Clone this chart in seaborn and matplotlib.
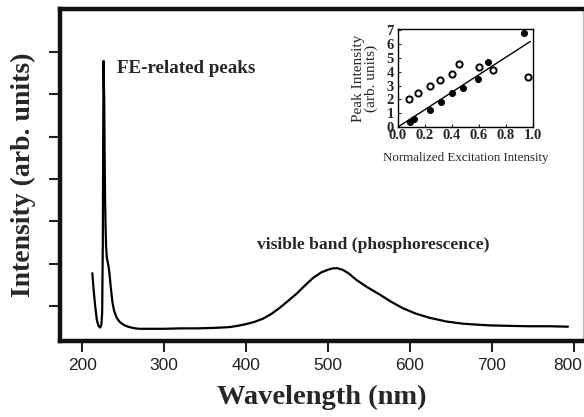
"""
Emission spectrum with FE-related peaks and visible phosphorescence band,
plus an inset of peak intensity vs. normalized excitation intensity.
"""
import matplotlib
matplotlib.use("Agg")
import matplotlib.pyplot as plt
import seaborn as sns
import pandas as pd

# ---- main spectrum (wavelength in nm, intensity in arb. units) ----
wavelength = [212.5, 214, 216, 218, 220, 222, 223.5, 224.5, 225.3, 225.8,
              226.2, 226.6, 227.0, 227.5, 228.0, 228.6, 229.3, 230.2, 231.2, 232.2,
              233.5, 235, 237, 239, 242, 245, 248, 252, 256, 260,
              265, 270, 280, 300, 320, 340, 360, 380, 390, 400,
              410, 421, 431, 441, 451, 462, 472, 482, 492, 500,
              505, 511, 518, 525, 535, 548, 563, 577, 591, 607,
              624, 645, 665, 680, 698, 720, 745, 770, 793]
intensity = [1.78, 1.40, 1.00, 0.68, 0.54, 0.50, 0.56, 0.85, 2.50, 5.20,
             6.78, 6.20, 5.90, 4.60, 3.60, 2.90, 2.40, 2.15, 2.05, 1.95,
             1.75, 1.45, 1.10, 0.90, 0.74, 0.65, 0.60, 0.55, 0.52, 0.50,
             0.48, 0.47, 0.47, 0.47, 0.48, 0.48, 0.49, 0.51, 0.54, 0.58,
             0.63, 0.71, 0.82, 0.96, 1.12, 1.30, 1.49, 1.67, 1.80, 1.86,
             1.89, 1.90, 1.86, 1.78, 1.62, 1.45, 1.28, 1.11, 0.96, 0.83,
             0.73, 0.64, 0.59, 0.57, 0.55, 0.54, 0.53, 0.53, 0.52]

xticks_main = [200, 300, 400, 500, 600, 700, 800]
yticks_main = [1, 2, 3, 4, 5, 6, 7]

# ---- inset data ----
filled_x = [0.09, 0.12, 0.24, 0.32, 0.40, 0.48, 0.59, 0.67, 0.93]
filled_y = [0.35, 0.55, 1.20, 1.80, 2.50, 2.80, 3.50, 4.70, 6.80]
open_x = [0.08, 0.15, 0.24, 0.31, 0.40, 0.45, 0.60, 0.70, 0.96]
open_y = [2.05, 2.45, 3.00, 3.40, 3.85, 4.60, 4.35, 4.15, 3.65]
fit_x = [0.0, 0.98]
fit_y = [0.0, 6.2]
inset_xticks = [0.0, 0.2, 0.4, 0.6, 0.8, 1.0]
inset_yticks = [0, 1, 2, 3, 4, 5, 6, 7]

sns.set_style("ticks")
serif = "Liberation Serif"
sans = "Liberation Sans"

spec = pd.DataFrame({"wl": wavelength, "inten": intensity})

fig = plt.figure(figsize=(5.84, 4.17), dpi=100)
ax = fig.add_axes([0.1027, 0.182, 0.895, 0.796])

sns.lineplot(data=spec, x="wl", y="inten", ax=ax, color="black", lw=1.6, sort=False)
ax.set_xlim(173, 811)
ax.set_ylim(0.18, 8.0)
ax.set_xticks(xticks_main)
# last label sits right at the figure edge: draw it separately, nudged in a little
tick_text = [str(t) for t in xticks_main]
ax.set_xticklabels(tick_text[:-1] + [""], fontfamily=sans, fontsize=12.5, color="#222222")
ax.annotate(tick_text[-1], xy=(xticks_main[-1], 0), xycoords=("data", "axes fraction"),
            xytext=(-4, -12), textcoords="offset points", ha="center", va="top",
            fontfamily=sans, fontsize=12.5, color="#222222")
ax.set_yticks(yticks_main)
ax.set_yticklabels([])
ax.tick_params(axis="both", direction="out", length=8, width=1.5, color="#222222", pad=4)
for side in ["left", "bottom", "top"]:
    ax.spines[side].set_linewidth(3.2)
    ax.spines[side].set_color("#111111")
ax.spines["right"].set_linewidth(1.0)
ax.spines["right"].set_color("#bbbbbb")

ax.set_xlabel("Wavelength (nm)", fontfamily=serif, fontweight="bold", fontsize=20.5, labelpad=9)
ax.set_ylabel("Intensity (arb. units)", fontfamily=serif, fontweight="bold", fontsize=20, labelpad=5)

ax.text(242.5, 6.6, "FE-related peaks", fontfamily=serif, fontweight="bold", fontsize=13.7,
        ha="left", va="center")
ax.text(556, 2.45, "visible band (phosphorescence)", fontfamily=serif, fontweight="bold",
        fontsize=12.6, ha="center", va="center")

# ---- inset ----
ins = fig.add_axes([0.6815, 0.6954, 0.2312, 0.235])
sns.lineplot(x=fit_x, y=fit_y, ax=ins, color="black", lw=1.0)
sns.scatterplot(x=filled_x, y=filled_y, ax=ins, color="black", s=18, edgecolor="black", linewidth=0.8)
sns.scatterplot(x=open_x, y=open_y, ax=ins, facecolor="white", edgecolor="black", s=20, linewidth=1.4)
ins.set_xlim(0.0, 1.0)
ins.set_ylim(0.0, 7.1)
ins.set_xticks(inset_xticks)
ins.set_xticklabels([f"{t:.1f}" for t in inset_xticks], fontfamily=serif, fontweight="bold", fontsize=10.5)
ins.set_yticks(inset_yticks)
ins.set_yticklabels([str(t) for t in inset_yticks], fontfamily=serif, fontweight="bold", fontsize=10.5)
ins.tick_params(axis="x", direction="in", length=2, width=0.8, pad=1.5)
ins.tick_params(axis="y", direction="in", length=2, width=0.8, pad=3)
for side in ins.spines.values():
    side.set_linewidth(1.0)
    side.set_color("black")
ins.set_xlabel("Normalized Excitation Intensity", fontfamily=serif, fontsize=9.4, labelpad=7)
ins.set_ylabel("Peak Intensity\n(arb. units)", fontfamily=serif, fontsize=11, labelpad=6,
               linespacing=0.95)

fig.savefig("out.png", dpi=100)
